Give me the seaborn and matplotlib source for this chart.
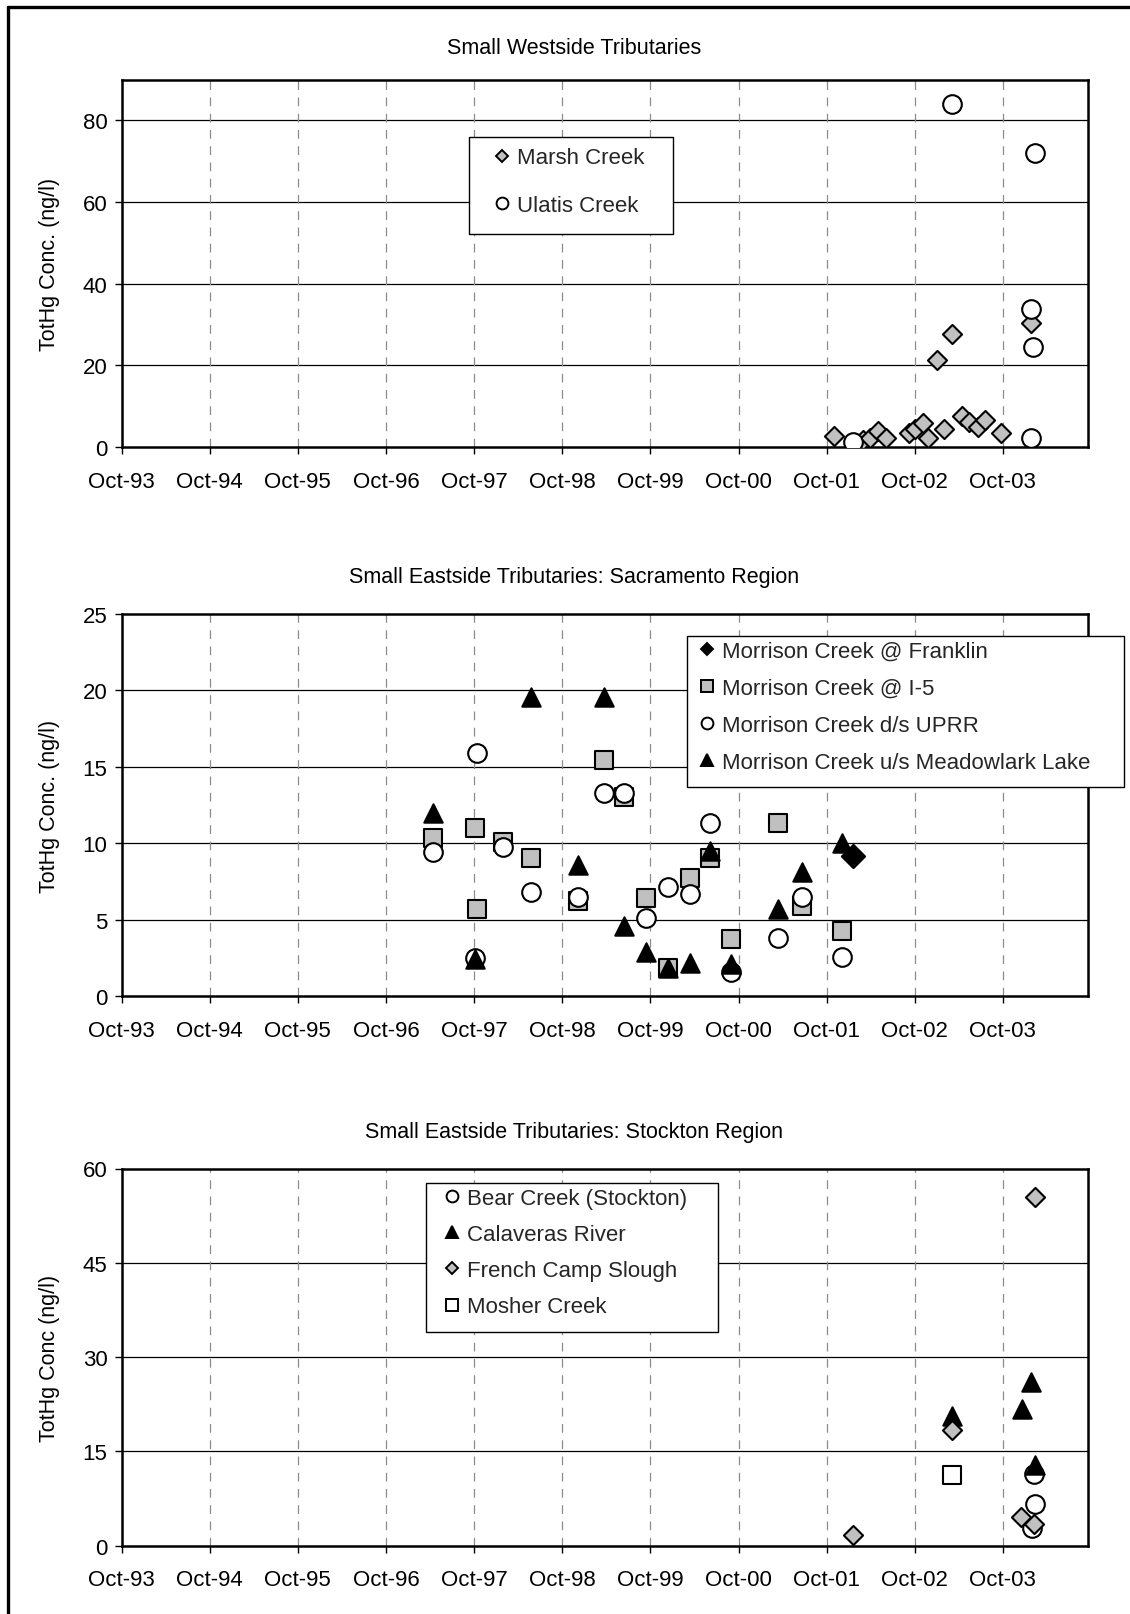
import matplotlib
matplotlib.use("Agg")
import matplotlib.pyplot as plt
from matplotlib.lines import Line2D
from matplotlib.patches import Rectangle
import seaborn as sns
import pandas as pd

# ---------------- data ----------------
# Panel 1: Small Westside Tributaries
marsh_dates = ["2001-10-30", "2002-02-27", "2002-03-28", "2002-05-03", "2002-06-05",
               "2002-09-08", "2002-10-01", "2002-11-06", "2002-11-24", "2003-01-29",
               "2002-12-31", "2003-03-03", "2003-04-16", "2003-05-15", "2003-06-20",
               "2003-07-19", "2003-09-23", "2004-01-26"]
marsh_vals = [2.6, 1.6, 2.1, 3.9, 2.1, 3.5, 4.4, 5.8, 2.1, 4.4, 21.2, 27.7, 7.5, 6.1, 5.0, 6.5, 3.4, 30.4]
ulatis_dates = ["2002-01-19", "2003-03-03", "2004-02-13", "2004-01-26", "2004-02-02", "2004-01-26"]
ulatis_vals = [1.2, 84.1, 72.1, 33.8, 24.4, 2.1]

# Panel 2: Small Eastside Tributaries: Sacramento Region
franklin_dates = ["2002-01-19"]
franklin_vals = [9.15]
i5_dates = ["1997-04-12", "1997-10-05", "1997-10-12", "1998-01-29", "1998-05-26", "1998-12-06",
            "1999-03-25", "1999-06-13", "1999-09-13", "1999-12-13", "2000-03-13", "2000-06-05",
            "2000-09-01", "2001-03-14", "2001-06-21", "2001-12-02"]
i5_vals = [10.35, 11.0, 5.7, 10.07, 9.0, 6.2, 15.46, 13.0, 6.4, 1.83, 7.7, 9.05, 3.7, 11.3, 5.9, 4.26]
uprr_dates = ["1997-04-12", "1997-10-12", "1997-10-05", "1998-01-29", "1998-05-26", "1998-12-06",
              "1999-03-25", "1999-06-13", "1999-09-13", "1999-12-13", "2000-03-13", "2000-06-05",
              "2000-09-01", "2001-03-14", "2001-06-21", "2001-12-02"]
uprr_vals = [9.4, 15.9, 2.46, 9.75, 6.83, 6.5, 13.3, 13.3, 5.1, 7.15, 6.7, 11.3, 1.55, 3.8, 6.5, 2.56]
meadow_dates = ["1997-04-12", "1997-10-05", "1998-05-26", "1999-03-25", "1998-12-06", "1999-06-13",
                "1999-09-13", "1999-12-13", "2000-03-13", "2000-06-05", "2000-09-01", "2001-03-14",
                "2001-06-21", "2001-12-02"]
meadow_vals = [12.0, 2.4, 19.6, 19.6, 8.6, 4.6, 2.9, 1.8, 2.15, 9.5, 2.1, 5.7, 8.1, 10.0]

# Panel 3: Small Eastside Tributaries: Stockton Region
bear_dates = ["2004-02-06", "2004-02-13", "2004-01-30"]
bear_vals = [11.4, 6.6, 2.8]
calaveras_dates = ["2003-03-03", "2004-01-26", "2003-12-20", "2004-02-13"]
calaveras_vals = [20.7, 26.0, 21.8, 12.9]
french_dates = ["2004-02-13", "2003-03-03", "2002-01-19", "2003-12-17", "2004-02-06"]
french_vals = [55.5, 18.4, 1.75, 4.6, 3.5]
mosher_dates = ["2003-03-03"]
mosher_vals = [11.2]

tick_dates = ["1993-10-01", "1994-10-01", "1995-10-01", "1996-10-01", "1997-10-01", "1998-10-01",
              "1999-10-01", "2000-10-01", "2001-10-01", "2002-10-01", "2003-10-01"]
tick_labels = ["Oct-93", "Oct-94", "Oct-95", "Oct-96", "Oct-97", "Oct-98",
               "Oct-99", "Oct-00", "Oct-01", "Oct-02", "Oct-03"]
x_range = ["1993-10-01", "2004-09-16"]

titles = ["Small Westside Tributaries",
          "Small Eastside Tributaries: Sacramento Region",
          "Small Eastside Tributaries: Stockton Region"]
ylabels = ["TotHg Conc. (ng/l)", "TotHg Conc. (ng/l)", "TotHg Conc (ng/l)"]
y_ticks = [[0, 20, 40, 60, 80], [0, 5, 10, 15, 20, 25], [0, 15, 30, 45, 60]]
y_max = [90, 25, 60]

legend1_labels = ["Marsh Creek", "Ulatis Creek"]
legend2_labels = ["Morrison Creek @ Franklin", "Morrison Creek @ I-5", "Morrison Creek d/s UPRR",
                  "Morrison Creek u/s Meadowlark Lake"]
legend3_labels = ["Bear Creek (Stockton)", "Calaveras River", "French Camp Slough", "Mosher Creek"]

# ---------------- style ----------------
sns.set_theme(style="white")
plt.rcParams["font.family"] = ["Liberation Sans", "DejaVu Sans"]

W, H = 1130, 1615
fig = plt.figure(figsize=(W / 100, H / 100), dpi=100)

GRAY = "#C0C0C0"
FS = 16
FS_T = 15.5


def fx(px):
    return px / W


def fy(py):
    return 1 - py / H


def px_axes(left, right, top, bottom):
    return fig.add_axes([fx(left), fy(bottom), (right - left) / W, (bottom - top) / H])


ax1 = px_axes(121.5, 1087.5, 80.5, 448)
ax2 = px_axes(121.5, 1087.5, 615, 997)
ax3 = px_axes(121.5, 1087.5, 1169.5, 1546.7)
axes = [ax1, ax2, ax3]


def scatter(ax, dates, vals, marker, face, size, z):
    sns.scatterplot(x=pd.to_datetime(dates), y=vals, ax=ax, marker=marker, color=face,
                    edgecolor="black", linewidth=1.5, s=size, zorder=z, legend=False)


# Panel 1
scatter(ax1, marsh_dates, marsh_vals, "D", GRAY, 95, 3)
scatter(ax1, ulatis_dates, ulatis_vals, "o", "white", 180, 4)
# Panel 2
scatter(ax2, i5_dates, i5_vals, "s", GRAY, 150, 3)
scatter(ax2, uprr_dates, uprr_vals, "o", "white", 180, 4)
scatter(ax2, meadow_dates, meadow_vals, "^", "black", 175, 5)
scatter(ax2, franklin_dates, franklin_vals, "D", "black", 140, 6)
# Panel 3
scatter(ax3, bear_dates, bear_vals, "o", "white", 180, 3)
scatter(ax3, calaveras_dates, calaveras_vals, "^", "black", 175, 4)
scatter(ax3, french_dates, french_vals, "D", GRAY, 95, 5)
scatter(ax3, mosher_dates, mosher_vals, "s", "white", 150, 6)

xt = pd.to_datetime(tick_dates)
for i, ax in enumerate(axes):
    ax.set_xlim(pd.to_datetime(x_range[0]), pd.to_datetime(x_range[1]))
    ax.set_ylim(0, y_max[i])
    ax.set_yticks(y_ticks[i])
    ax.set_yticklabels([str(v) for v in y_ticks[i]])
    ax.set_xticks(xt)
    ax.set_xticklabels(tick_labels)
    ax.set_xlabel("")
    ax.set_ylabel(ylabels[i], fontsize=FS_T, color="black")
    ax.yaxis.set_label_coords(-0.064, 0.5)
    for y in y_ticks[i][1:]:
        if y < y_max[i]:
            ax.axhline(y, color="black", lw=0.9, zorder=1)
    for d in xt[1:]:
        ax.axvline(d, color="#8C8C8C", lw=0.9, ls=(0, (7, 6)), zorder=1)
    for s in ax.spines.values():
        s.set_visible(True)
        s.set_color("black")
        s.set_linewidth(1.8)
    ax.tick_params(axis="both", which="major", direction="out", length=5, width=1,
                   color="black", labelsize=FS, labelcolor="black", bottom=True, left=True)
    ax.tick_params(axis="x", pad=12)
    ax.tick_params(axis="y", pad=5)
    ax.grid(False)

# titles
title_y = [49, 577, 1133]
for t, yy in zip(titles, title_y):
    fig.text(fx(574), fy(yy), t, ha="center", va="center", fontsize=FS_T, color="black")


# legends: opaque box + entries
def handle(marker, face, ms):
    return Line2D([], [], ls="none", marker=marker, markerfacecolor=face,
                  markeredgecolor="black", markeredgewidth=1.4, markersize=ms)


def legend_box(x0, y0, x1, y1):
    fig.add_artist(Rectangle((fx(x0), fy(y1)), (x1 - x0) / W, (y1 - y0) / H,
                             transform=fig.transFigure, facecolor="white",
                             edgecolor="black", lw=1.0, zorder=5))


def legend(handles, labels, hx, ty, spacing):
    lg = fig.legend(handles, labels, loc="upper left", bbox_to_anchor=(fx(hx), fy(ty)),
                    bbox_transform=fig.transFigure, frameon=False, fontsize=FS,
                    handlelength=0.8, handletextpad=0.30, borderpad=0, borderaxespad=0,
                    labelspacing=spacing)
    lg.set_zorder(6)
    return lg


legend_box(469, 138, 673, 235)
legend([handle("D", GRAY, 6.5), handle("o", "white", 8.5)], legend1_labels,
       492.8, 148.5, 1.17)

legend_box(687, 637, 1124, 788)
legend([handle("D", "black", 6.5), handle("s", GRAY, 8), handle("o", "white", 8.5),
        handle("^", "black", 9)], legend2_labels, 697.8, 641.5, 0.73)

legend_box(426, 1184, 718, 1333)
legend([handle("o", "white", 8.5), handle("^", "black", 9), handle("D", GRAY, 6.5),
        handle("s", "white", 8)], legend3_labels, 442.8, 1189.0, 0.68)

# outer frame (only top and left edges visible in the crop)
fig.add_artist(Line2D([fx(8), 1.0], [fy(8), fy(8)], transform=fig.transFigure,
                      color="black", lw=2.4))
fig.add_artist(Line2D([fx(8), fx(8)], [0.0, fy(8)], transform=fig.transFigure,
                      color="black", lw=2.4))

fig.savefig("out.png", dpi=100, facecolor="white")
